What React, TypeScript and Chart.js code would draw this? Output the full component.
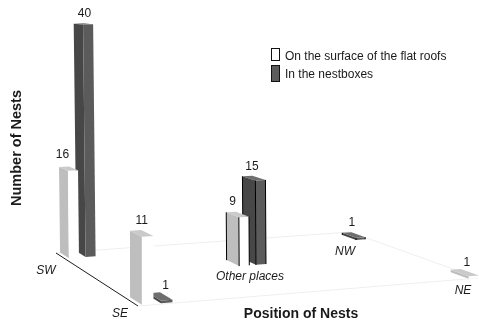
import React, { useEffect, useRef } from "react";
import { Chart, registerables } from "chart.js";

Chart.register(...registerables);

// Nest counts per roof position; null means no bar at that position.
const positions = ["SW", "SE", "Other places", "NW", "NE"];
const roofNests = [16, 11, 9, null, 1];
const boxNests = [40, 1, 15, 1, null];
const seriesNames = ["On the surface of the flat roofs", "In the nestboxes"];

// Where each position stands on the floor plane, in unit floor coordinates.
const floorU = [0, 0, 0.433, 0.886, 0.957];
const floorV = [0.88, 0.012, 0.5, 0.826, 0];
const seriesU = [0.014, 0.067];
const outlined = [false, false, true, true, false];
const positionLabelAt: [number, number][] = [[46, 271], [120, 314], [250, 277], [345, 252], [463, 291]];
// Nudge of each value label, per series and position.
const valueNudgeX = [
  [-5, 1, -4, 0, 3],
  [2, 6, -1, -1, 0],
];
const valueNudgeY = [
  [-2, 0, 0, 0, 3],
  [0, 3, 0, 0, 0],
];

// Footprint of a bar on the floor.
const BAR_DU = 0.032;
const BAR_DV = 0.124;
// Top of the scale stands nearer the eye, so tall bars grow slightly.
const RISE_PERSPECTIVE = 0.002;
const LEAN = 0.012;

// Floor quadrilateral in canvas pixels, used for the plane-to-screen mapping.
const P00 = [138, 306];
const P10 = [478, 278];
const P01 = [56, 253];
const P11 = [350, 232];

const FONT = '"Liberation Sans", Arial, sans-serif';
const FACES = [
  { left: "#bebebe", front: "#ffffff", top: "#cacaca" },
  { left: "#474747", front: "#5b5b5b", top: "#6e6e6e" },
];

function makeFloor() {
  const dx1 = P10[0] - P11[0], dx2 = P01[0] - P11[0], sx = P00[0] - P10[0] + P11[0] - P01[0];
  const dy1 = P10[1] - P11[1], dy2 = P01[1] - P11[1], sy = P00[1] - P10[1] + P11[1] - P01[1];
  const den = dx1 * dy2 - dx2 * dy1;
  const g = (sx * dy2 - dx2 * sy) / den;
  const h = (dx1 * sy - sx * dy1) / den;
  const ax = P10[0] * (1 + g) - P00[0], bx = P01[0] * (1 + h) - P00[0];
  const ay = P10[1] * (1 + g) - P00[1], by = P01[1] * (1 + h) - P00[1];
  const depth = (u: number, v: number) => 1 + g * u + h * v;
  return {
    depth,
    at(u: number, v: number) {
      const w = depth(u, v);
      return { x: (ax * u + bx * v + P00[0]) / w, y: (ay * u + by * v + P00[1]) / w };
    },
  };
}

function poly(ctx: CanvasRenderingContext2D, pts: { x: number; y: number }[], fill: string) {
  ctx.beginPath();
  pts.forEach((p, i) => (i ? ctx.lineTo(p.x, p.y) : ctx.moveTo(p.x, p.y)));
  ctx.closePath();
  ctx.fillStyle = fill;
  ctx.fill();
}

function text(ctx: CanvasRenderingContext2D, s: string, x: number, y: number, font: string, align: CanvasTextAlign = "center") {
  ctx.font = font;
  ctx.fillStyle = "#1a1a1a";
  ctx.textAlign = align;
  ctx.textBaseline = "middle";
  ctx.fillText(s, x, y);
}

// Draws the scatter points of both series as perspective prisms on the floor.
const prismPlugin = {
  id: "prisms",
  afterDatasetsDraw(chart: any) {
    const { ctx, chartArea, scales } = chart;
    const floor = makeFloor();
    const line = (a: any, b: any, color: string, width: number) => {
      ctx.strokeStyle = color;
      ctx.lineWidth = width;
      ctx.beginPath();
      ctx.moveTo(a.x, a.y);
      ctx.lineTo(b.x, b.y);
      ctx.stroke();
    };

    ctx.save();
    const c00 = floor.at(0, 0), c10 = floor.at(1, 0), c01 = floor.at(0, 1), c11 = floor.at(1, 1);
    line(c01, c11, "#efefef", 1);
    line(c11, c10, "#efefef", 1);
    line(c00, c10, "#efefef", 1);
    line(c01, c00, "#1c1c1c", 1);

    const bars: any[] = [];
    chart.data.datasets.forEach((ds: any, d: number) => {
      chart.getDatasetMeta(d).data.forEach((el: any, j: number) => {
        const raw = ds.data[j];
        bars.push({ d, raw, u: (el.x - chartArea.left) / chartArea.width, rise: scales.y.getPixelForValue(scales.y.min) - el.y });
      });
    });
    bars.sort((a, b) => b.raw.depth - a.raw.depth || b.u - a.u);

    for (const bar of bars) {
      const { u, rise, raw, d } = bar;
      const v = raw.depth;
      const up = (uu: number, vv: number) => {
        const p = floor.at(uu, vv);
        const h = rise / (floor.depth(uu, vv) - RISE_PERSPECTIVE * raw.y);
        return { x: p.x - LEAN * h * vv, y: p.y - h };
      };
      const a = floor.at(u, v), b = floor.at(u + BAR_DU, v), c = floor.at(u, v + BAR_DV);
      const a2 = up(u, v), b2 = up(u + BAR_DU, v), c2 = up(u, v + BAR_DV), e2 = up(u + BAR_DU, v + BAR_DV);
      const faces = FACES[d];
      poly(ctx, [a, c, c2, a2], faces.left);
      poly(ctx, [a, b, b2, a2], faces.front);
      poly(ctx, [a2, b2, e2, c2], faces.top);
      if (raw.outlined) {
        line(a, a2, "#000", 1);
        line(b, b2, "#000", 1);
        line(c, c2, "#000", 1);
      }
      const labelX = (c2.x + b2.x) / 2 - 1 + raw.nudgeX;
      const labelY = Math.min(c2.y, e2.y) - 9.5 + raw.nudgeY;
      text(ctx, String(raw.y), labelX, labelY, `12px ${FONT}`);
    }

    positions.forEach((name, i) => {
      text(ctx, name, positionLabelAt[i][0], positionLabelAt[i][1], `italic 12px ${FONT}`);
    });

    // Legend
    ctx.fillStyle = "#fff";
    ctx.strokeStyle = "#111";
    ctx.lineWidth = 1;
    ctx.fillRect(271.5, 48.5, 8, 12);
    ctx.strokeRect(271.5, 48.5, 8, 12);
    ctx.fillStyle = FACES[1].front;
    ctx.fillRect(271.5, 65.5, 8, 16);
    ctx.strokeRect(271.5, 65.5, 8, 16);
    text(ctx, seriesNames[0], 285, 56.5, `12px ${FONT}`, "left");
    text(ctx, seriesNames[1], 285, 75, `12px ${FONT}`, "left");

    // Axis titles
    text(ctx, "Position of Nests", 301, 314, `bold 14px ${FONT}`);
    ctx.save();
    ctx.translate(17, 148);
    ctx.rotate(-Math.PI / 2);
    text(ctx, "Number of Nests", 0, 0, `bold 14.5px ${FONT}`);
    ctx.restore();
    ctx.restore();
  },
};

function seriesData(values: (number | null)[], s: number) {
  return positions
    .map((_, i) => ({
      x: floorU[i] + seriesU[s],
      y: values[i],
      depth: floorV[i],
      outlined: outlined[i],
      nudgeX: valueNudgeX[s][i],
      nudgeY: valueNudgeY[s][i],
    }))
    .filter((p) => p.y !== null);
}

export default function App() {
  const ref = useRef<HTMLCanvasElement>(null);
  useEffect(() => {
    const chart = new Chart(ref.current!, {
      type: "scatter",
      data: {
        datasets: [
          { label: seriesNames[0], data: seriesData(roofNests, 0) as any, pointRadius: 0 },
          { label: seriesNames[1], data: seriesData(boxNests, 1) as any, pointRadius: 0 },
        ],
      },
      options: {
        responsive: false,
        animation: false,
        events: [],
        layout: { padding: { top: 30, bottom: 41, left: 0, right: 0 } },
        plugins: { legend: { display: false }, tooltip: { enabled: false }, title: { display: false } },
        scales: {
          x: { type: "linear", min: 0, max: 1, display: false },
          y: { type: "linear", min: 0.6, max: 40, display: false },
        },
      },
      plugins: [prismPlugin],
    });
    return () => chart.destroy();
  }, []);
  return (
    <div style={{ position: "absolute", left: 0, top: 0, width: 479, height: 324, background: "#fff" }}>
      <canvas ref={ref} width={479} height={324} style={{ display: "block" }} />
    </div>
  );
}
